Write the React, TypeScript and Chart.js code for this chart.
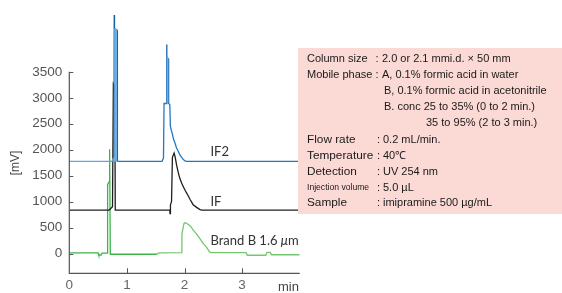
import React, { useEffect, useRef } from "react";
import { Chart, registerables } from "chart.js";

Chart.register(...registerables);

// ---------- data ----------
const xTickValues = [0, 1, 2, 3];
const yTickValues = [0, 500, 1000, 1500, 2000, 2500, 3000, 3500];

const if2Times = [0, 0.74, 0.76, 0.775, 0.78, 0.785, 0.83, 0.835, 1.61, 1.635, 1.645, 1.685, 1.69, 1.695, 1.72, 1.725, 1.745, 1.755, 1.77, 1.79, 1.81, 1.835, 1.86, 1.89, 1.92, 1.95, 1.98, 2.01, 2.03, 4];
const if2Values = [1775, 1775, 1830, 1850, 4620, 4330, 4300, 1775, 1775, 1840, 2890, 2890, 4025, 3780, 3750, 2890, 2870, 2450, 2380, 2300, 2200, 2130, 2040, 1975, 1900, 1855, 1810, 1785, 1775, 1775];

const if2BandTimes1 = [0.778, 0.832];
const if2BandValues1 = [4330, 4300];
const if2BandTimes2 = [1.688, 1.722];
const if2BandValues2 = [3780, 3750];

const ifTimes = [0, 0.69, 0.72, 0.75, 0.765, 0.775, 0.79, 0.798, 1.745, 1.748, 1.752, 1.756, 1.775, 1.79, 1.82, 1.84, 1.864, 1.89, 1.92, 1.95, 1.98, 2.01, 2.04, 2.07, 2.1, 2.15, 2.21, 2.27, 2.3, 4];
const ifValues = [840, 840, 870, 905, 3270, 3250, 3200, 840, 840, 770, 770, 940, 1000, 1855, 1936, 1850, 1698, 1570, 1445, 1360, 1289, 1220, 1162, 1100, 1038, 943, 892, 850, 840, 840];

const brandTimes = [0, 0.5, 0.51, 0.55, 0.57, 0.655, 0.665, 0.69, 0.7, 0.712, 1.52, 1.55, 1.945, 1.955, 1.99, 2.01, 2.03, 2.1, 2.15, 2.21, 2.27, 2.33, 2.39, 2.43, 2.46, 3.07, 3.09, 3.41, 3.43, 3.49, 3.51, 4];
const brandValues = [15, 15, -25, -25, 10, 10, 1330, 1380, 2010, -10, -10, 15, 20, 377, 577, 596, 590, 534, 458, 377, 283, 189, 113, 40, 20, 20, -30, -30, 25, 25, -20, -20];

const seriesLabels = ["IF2", "IF", "Brand B 1.6 "];
const labelAnchorX = [2.45, 2.45, 2.45];
const labelAnchorY = [1970, 1000, 250];

const conditionRows: { label: string; value: string; labelSize: number; indent?: number }[] = [
  { label: "Column size", value: "2.0 or 2.1 mmi.d. × 50 mm", labelSize: 11 },
  { label: "Mobile phase", value: "A, 0.1% formic acid in water", labelSize: 11 },
  { label: "", value: "B, 0.1% formic acid in acetonitrile", labelSize: 11, indent: 1 },
  { label: "", value: "B. conc 25 to 35% (0 to 2 min.)", labelSize: 11, indent: 1 },
  { label: "", value: "35 to 95% (2 to 3 min.)", labelSize: 11, indent: 2 },
  { label: "Flow rate", value: "0.2 mL/min.", labelSize: 11.8 },
  { label: "Temperature", value: "40℃", labelSize: 11.8 },
  { label: "Detection", value: "UV 254 nm", labelSize: 11.8 },
  { label: "Injection volume", value: "5.0 µL", labelSize: 8.6 },
  { label: "Sample", value: "imipramine 500 µg/mL", labelSize: 11.8 },
];
const conditionRowY = [59, 75, 91, 107, 123, 140, 156, 172, 188, 203];

const toPoints = (xs: number[], ys: number[]) => xs.map((x, i) => ({ x, y: ys[i] }));

const FONT = '"Liberation Sans", Arial, sans-serif';

const decorPlugin = {
  id: "decor",
  afterDraw(chart: any) {
    const { ctx, chartArea, scales } = chart;
    const xs = scales.x;
    const ys = scales.y;
    ctx.save();
    // axes
    ctx.strokeStyle = "#555";
    ctx.lineWidth = 1.2;
    ctx.beginPath();
    const yTop = ys.getPixelForValue(yTickValues[yTickValues.length - 1]);
    ctx.moveTo(chartArea.left, yTop);
    ctx.lineTo(chartArea.left, chartArea.bottom);
    ctx.lineTo(chartArea.right, chartArea.bottom);
    ctx.stroke();
    // tick marks (inward)
    ctx.lineWidth = 1;
    ctx.beginPath();
    for (const v of yTickValues) {
      const py = Math.round(ys.getPixelForValue(v)) + 0.5;
      ctx.moveTo(chartArea.left, py);
      ctx.lineTo(chartArea.left + 4, py);
    }
    for (const v of xTickValues) {
      if (v === 0) continue;
      const px = Math.round(xs.getPixelForValue(v)) + 0.5;
      ctx.moveTo(px, chartArea.bottom);
      ctx.lineTo(px, chartArea.bottom - 5);
    }
    ctx.stroke();

    // axis titles
    ctx.fillStyle = "#444";
    ctx.font = `12px ${FONT}`;
    ctx.textAlign = "center";
    ctx.textBaseline = "middle";
    ctx.save();
    ctx.translate(16, 163);
    ctx.rotate(-Math.PI / 2);
    ctx.fillText("[mV]", 0, 0);
    ctx.restore();
    ctx.textAlign = "left";
    ctx.font = `13px ${FONT}`;
    ctx.fillStyle = "#444";
    ctx.fillText("min", 278, 287);

    // series labels
    ctx.fillStyle = "#333";
    ctx.font = `13px Lato, ${FONT}`;
    seriesLabels.forEach((t, i) => {
      const px = xs.getPixelForValue(labelAnchorX[i]);
      const py = ys.getPixelForValue(labelAnchorY[i]);
      ctx.fillText(t, px, py);
      if (i === 2) {
        const w = ctx.measureText(t).width;
        ctx.font = `italic 13px Lato, ${FONT}`;
        ctx.fillText("μ", px + w, py);
        const w2 = ctx.measureText("μ").width;
        ctx.font = `13px Lato, ${FONT}`;
        ctx.fillText("m", px + w + w2, py);
      }
    });

    // conditions box
    const bx = 298, by = 48, bw = 264, bh = 166;
    ctx.fillStyle = "#fbd9d5";
    ctx.fillRect(bx, by, bw, bh);
    ctx.fillStyle = "#1a1a1a";
    ctx.textBaseline = "middle";
    const labelX = 307;
    conditionRows.forEach((r, i) => {
      const y = conditionRowY[i];
      if (r.label) {
        const lower = i >= 5;
        ctx.font = `${r.labelSize}px ${FONT}`;
        ctx.fillText(r.label, labelX, y);
        ctx.font = `11px ${FONT}`;
        ctx.fillText(":", lower ? 377 : 375.5, y);
        ctx.fillText(r.value, lower ? 383 : 382, y);
      } else {
        ctx.font = `11px ${FONT}`;
        const x = r.indent === 2 ? 426 : 384;
        ctx.fillText(r.value, x, y);
      }
    });
    ctx.restore();
  },
};

export default function App() {
  const ref = useRef<HTMLCanvasElement>(null);
  useEffect(() => {
    document.body.style.margin = "0";
    const canvas = ref.current!;
    const chart = new Chart(canvas, {
      type: "line",
      data: {
        datasets: [
          {
            label: "IF2 band 1",
            data: toPoints(if2BandTimes1, if2BandValues1),
            borderColor: "#6aaee3",
            backgroundColor: "#6aaee3",
            borderWidth: 1,
            pointRadius: 0,
            fill: { value: 1775 },
          } as any,
          {
            label: "IF2 band 2",
            data: toPoints(if2BandTimes2, if2BandValues2),
            borderColor: "#6aaee3",
            backgroundColor: "#6aaee3",
            borderWidth: 1,
            pointRadius: 0,
            fill: { value: 2890 },
          } as any,
          {
            label: "IF2",
            data: toPoints(if2Times, if2Values),
            borderColor: "#2677c0",
            borderWidth: 1.3,
            pointRadius: 0,
            fill: false,
            segment: {
              borderColor: (c: any) => (c.p0.parsed.x < 0.77 ? "#5fa6de" : c.p1.parsed.y > 3900 || c.p0.parsed.y > 3900 ? "#1a5fa8" : "#2677c0"),
            },
          },
          {
            label: "IF",
            data: toPoints(ifTimes, ifValues),
            borderColor: "#1e1e1e",
            borderWidth: 1.3,
            pointRadius: 0,
            fill: false,
          },
          {
            label: "Brand B 1.6 μm",
            data: toPoints(brandTimes, brandValues),
            borderColor: "#3fb348",
            borderWidth: 1.3,
            pointRadius: 0,
            fill: false,
            segment: {
              borderColor: (c: any) => (c.p0.parsed.x >= 1.5 ? "#74c76e" : "#3fb348"),
            },
          },
        ],
      },
      options: {
        responsive: false,
        animation: false,
        devicePixelRatio: 1,
        layout: { padding: { left: 0, right: 262.3, top: 10, bottom: 0 } },
        plugins: { legend: { display: false }, tooltip: { enabled: false } },
        elements: { line: { tension: 0 } },
        scales: {
          x: {
            type: "linear",
            min: 0,
            max: 4,
            afterBuildTicks: (s: any) => {
              s.ticks = xTickValues.map((v) => ({ value: v }));
            },
            afterFit: (s: any) => {
              s.height = 19.7;
            },
            grid: { display: false, drawTicks: false },
            border: { display: false },
            ticks: { padding: 4, color: "#666", font: { family: FONT, size: 13.5 }, maxRotation: 0, callback: (v: any) => String(v) },
          },
          y: {
            type: "linear",
            min: -377,
            max: 4591,
            afterBuildTicks: (s: any) => {
              s.ticks = yTickValues.map((v) => ({ value: v }));
            },
            afterFit: (s: any) => {
              s.width = 69.3;
            },
            grid: { display: false, drawTicks: false },
            border: { display: false },
            ticks: { padding: 7, color: "#555", font: { family: FONT, size: 13.5 }, callback: (v: any) => String(v) },
          },
        },
      },
      plugins: [decorPlugin],
    });
    return () => chart.destroy();
  }, []);
  return (
    <div style={{ width: 562, height: 293 }}>
      <canvas ref={ref} width={562} height={293} style={{ display: "block" }} />
    </div>
  );
}
